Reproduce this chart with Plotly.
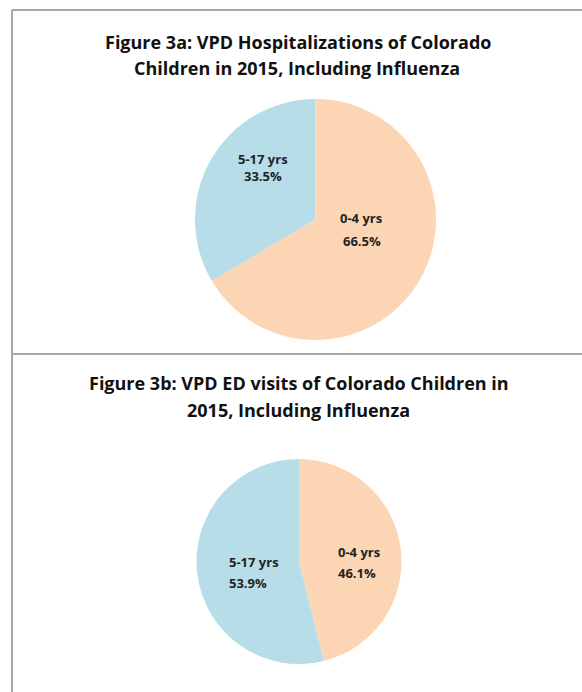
import plotly.graph_objects as go

W, H = 582, 692

# Data
age_groups = ["0-4 yrs", "5-17 yrs"]
hosp_share = [66.5, 33.5]
ed_share = [46.1, 53.9]
title_a = ["Figure 3a: VPD Hospitalizations of Colorado", "Children in 2015, Including Influenza"]
title_b = ["Figure 3b: VPD ED visits of Colorado Children in", "2015, Including Influenza"]
colors = ["#FCD5B5", "#B7DEE8"]

def px(x):
    return x / W

def py(y):
    return 1 - y / H

def dom(cx, cy, r):
    return dict(x=[px(cx - r), px(cx + r)], y=[py(cy + r), py(cy - r)])

fig = go.Figure()
fig.add_trace(go.Pie(labels=age_groups, values=hosp_share, sort=False, direction="clockwise",
                     rotation=0, marker=dict(colors=colors, line=dict(width=0)),
                     textinfo="none", hoverinfo="label+percent", showlegend=False,
                     domain=dom(315.5, 219.5, 120.5)))
fig.add_trace(go.Pie(labels=age_groups, values=ed_share, sort=False, direction="clockwise",
                     rotation=0, marker=dict(colors=colors, line=dict(width=0)),
                     textinfo="none", hoverinfo="label+percent", showlegend=False,
                     domain=dom(299, 561.5, 102.5)))

tfont = dict(family="Open Sans", size=18, color="#111111")
lfont = dict(family="Open Sans", size=13, color="#222222")
ann = []
def add_text(t, x, y, font, xanchor="center"):
    ann.append(dict(text=t, x=px(x), y=py(y), xref="paper", yref="paper", showarrow=False,
                    font=font, xanchor=xanchor, yanchor="middle"))

add_text("<b>%s</b>" % title_a[0], 298, 42, tfont)
add_text("<b>%s</b>" % title_a[1], 297, 68, tfont)
add_text("<b>%s</b>" % title_b[0], 299, 383, tfont)
add_text("<b>%s</b>" % title_b[1], 298, 410, tfont)

# slice labels
add_text("<b>%s</b>" % age_groups[0], 361, 218, lfont)
add_text("<b>%.1f%%</b>" % hosp_share[0], 362, 241, lfont)
add_text("<b>%s</b>" % age_groups[1], 263, 159, lfont)
add_text("<b>%.1f%%</b>" % hosp_share[1], 262.5, 176, lfont)
add_text("<b>%s</b>" % age_groups[0], 359, 552, lfont)
add_text("<b>%.1f%%</b>" % ed_share[0], 357, 573, lfont)
add_text("<b>%s</b>" % age_groups[1], 227, 562, lfont, xanchor="left")
add_text("<b>%.1f%%</b>" % ed_share[1], 227, 583, lfont, xanchor="left")

lc = "#A6A6A6"
shapes = [
    dict(type="line", xref="paper", yref="paper", x0=px(12), x1=px(582), y0=py(10), y1=py(10), line=dict(color=lc, width=2)),
    dict(type="line", xref="paper", yref="paper", x0=px(12), x1=px(12), y0=py(10), y1=py(692), line=dict(color=lc, width=2)),
    dict(type="line", xref="paper", yref="paper", x0=px(12), x1=px(582), y0=py(354), y1=py(354), line=dict(color=lc, width=2)),
]

fig.update_layout(width=W, height=H, margin=dict(l=0, r=0, t=0, b=0),
                  paper_bgcolor="white", plot_bgcolor="white",
                  annotations=ann, shapes=shapes)
fig.write_html("out.html", config={"displayModeBar": False},
               post_script="document.body.style.margin='0';document.body.style.overflow='hidden';")
